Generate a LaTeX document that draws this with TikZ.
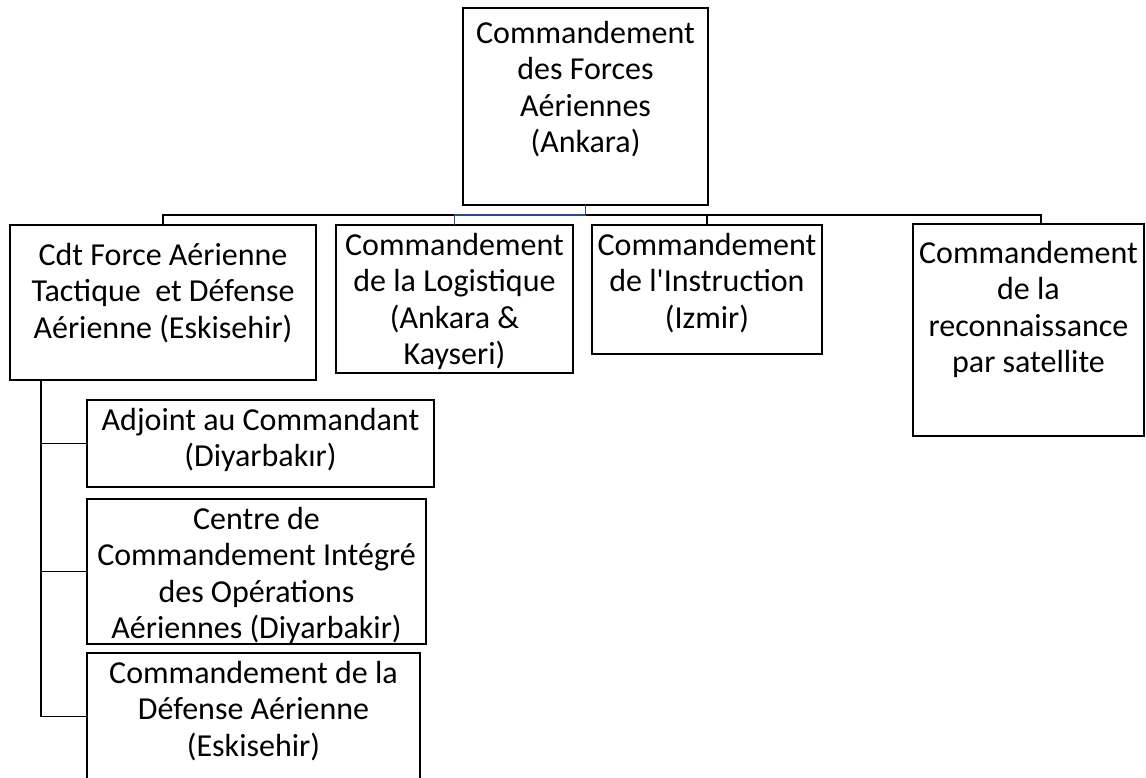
\documentclass[tikz,border=0pt]{standalone}
\usepackage{fontspec}
\setmainfont{Carlito}
\usetikzlibrary{positioning}
\definecolor{linkblue}{HTML}{2B4C8C}

\tikzset{
  unit/.style={draw, line width=2pt, inner sep=0pt, outer sep=0pt, anchor=north west},
  lbl/.style={align=center, inner sep=0pt, anchor=north, font=\fontsize{32}{36.5}\selectfont},
  link/.style={line width=1.5pt},
}

\begin{document}
\begin{tikzpicture}[x=1pt, y=-1pt]
   \clip (0,0) rectangle (1146,778);
   % head of the chart
   \node[unit, minimum width=245, minimum height=197,
     label={[lbl, yshift=-9.5]north:{\strut Commandement\\des Forces\\Aériennes\\(Ankara)}}]
     (air) at (463,8) {};
   % second row
   \node[unit, minimum width=306, minimum height=155,
     label={[lbl, yshift=-14.5]north:{\strut Cdt Force Aérienne\\Tactique~ et Défense\\Aérienne (Eskisehir)}}]
     (tactical) at (10,225) {};
   \node[unit, minimum width=237, minimum height=148,
     label={[lbl, yshift=-4.5]north:{\strut Commandement\\de la Logistique\\(Ankara \&\\Kayseri)}}]
     (logistics) at ([xshift=20]tactical.north east) {};
   \node[unit, minimum width=230, minimum height=129,
     label={[lbl, yshift=-4.5]north:{\strut Commandement\\de l\textquotesingle Instruction\\(Izmir)}}]
     (training) at ([xshift=19]logistics.north east) {};
   \node[unit, minimum width=231, minimum height=212,
     label={[lbl, yshift=-13.5]north:{\strut Commandement\\de la\\reconnaissance\\par satellite}}]
     (satellite) at (913,224) {};
   % under the tactical command
   \node[unit, minimum width=347, minimum height=87,
     label={[lbl, yshift=-4.5]north:{\strut Adjoint au Commandant\\(Diyarbakır)}}]
     (deputy) at (87,400) {};
   \node[unit, minimum width=339, minimum height=145,
     label={[lbl, yshift=-4.5]north:{\strut Centre de\\Commandement Intégré\\des Opérations\\Aériennes (Diyarbakir)}}]
     (opscentre) at (87,499) {};
   \node[unit, minimum width=333, minimum height=127,
     label={[lbl, yshift=-4.5]north:{\strut Commandement de la\\Défense Aérienne\\(Eskisehir)}}]
     (airdefence) at (87,653) {};

   % connectors
   \draw[link] (air.south) -- ++(0,10) -| (tactical.north);
   \draw[link] (air.south) -- ++(0,10) -| (training.north);
   \draw[link] (air.south) -- ++(0,10) -| ([xshift=12.5]satellite.north);
   \draw[link, linkblue] (air.south) -- ++(0,10) -| (logistics.north);
   \draw[link] ([xshift=31]tactical.south west) |- (deputy.west);
   \draw[link] ([xshift=31]tactical.south west) |- (opscentre.west);
   \draw[link] ([xshift=31]tactical.south west) |- (airdefence.west);
\end{tikzpicture}
\end{document}
